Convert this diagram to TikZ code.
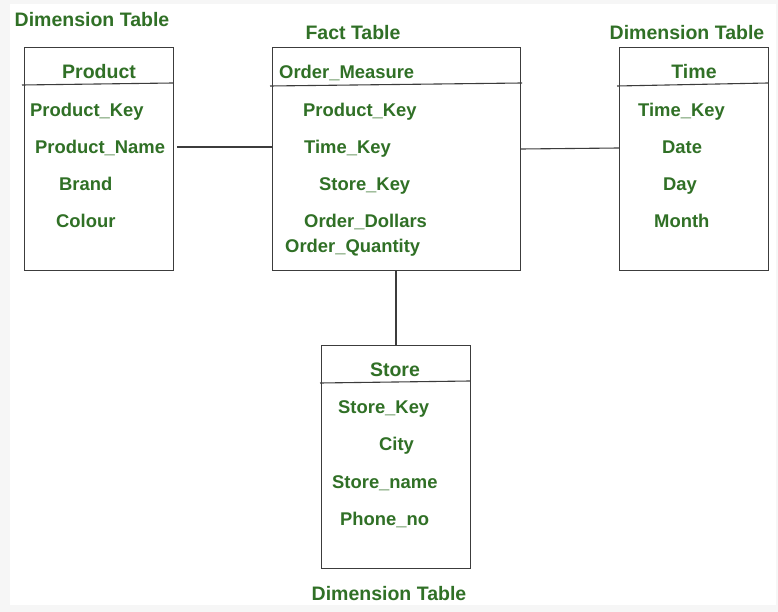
\documentclass[tikz,border=0pt]{standalone}
\usepackage{fontspec}
\setmainfont{Liberation Sans}
\definecolor{tabgreen}{RGB}{48, 112, 38}
\definecolor{edgegray}{RGB}{60, 60, 60}
\usetikzlibrary{positioning, calc}

\tikzset{
  tablebox/.style={draw=edgegray, line width=1.1pt},
  title/.style={anchor=base, text=tabgreen, inner sep=0pt, font=\bfseries\fontsize{19.5}{21}\selectfont},
  field/.style={anchor=base west, text=tabgreen, inner sep=0pt, font=\bfseries\fontsize{18.4}{20}\selectfont},
  link/.style={draw=edgegray, line width=1.1pt}
}

\begin{document}
\begin{tikzpicture}[x=1pt, y=-1pt]
  % page frame
  \fill[gray!7] (0,0) rectangle (778,612);
  \fill[white] (10,4) rectangle (776,605);
  \useasboundingbox (0,0) rectangle (778,612);

  % Product dimension
  \node[tablebox, minimum width=149pt, minimum height=223pt, anchor=north west] (product) at (24,47) {};
  \draw[tablebox] (22,85) -- (173,83);
  \node[title] (dimprod) at (92,27) {Dimension Table};
  \node[title] (prodhead) at (99,78.5) {Product};
  \node[field] (pkey) at (30,116.5) {Product\_Key};
  \node[field] (pname) at (35,153.5) {Product\_Name};
  \node[field] (brand) at (59,190.5) {Brand};
  \node[field] (colour) at (56,227.5) {Colour};

  % Fact table
  \node[tablebox, minimum width=248pt, minimum height=223pt, anchor=north west] (fact) at (272,47) {};
  \draw[tablebox] (270,86) -- (522,83);
  \node[title] (facttitle) at (353,40) {Fact Table};
  \node[field] (measure) at (279,78.5) {Order\_Measure};
  \node[field] (fpkey) at (303,116.5) {Product\_Key};
  \node[field] (ftkey) at (304,153.5) {Time\_Key};
  \node[field] (fskey) at (319,190.5) {Store\_Key};
  \node[field] (dollars) at (304,227.5) {Order\_Dollars};
  \node[field] (quantity) at (285,252.5) {Order\_Quantity};

  % Time dimension
  \node[tablebox, minimum width=149pt, minimum height=223pt, anchor=north west] (time) at (619,47) {};
  \draw[tablebox] (617,86) -- (768,83);
  \node[title] (dimtime) at (687,40) {Dimension Table};
  \node[title] (timehead) at (694,78.5) {Time};
  \node[field] (tkey) at (638,116.5) {Time\_Key};
  \node[field] (date) at (662,153.5) {Date};
  \node[field] (day) at (663,190.5) {Day};
  \node[field] (month) at (654,227.5) {Month};

  % Store dimension
  \node[tablebox, minimum width=149pt, minimum height=223pt, anchor=north west] (store) at (321,345) {};
  \draw[tablebox] (320,383) -- (470,381);
  \node[title] (dimstore) at (389,600) {Dimension Table};
  \node[title] (storehead) at (395,376.5) {Store};
  \node[field] (skey) at (338,413.5) {Store\_Key};
  \node[field] (city) at (379,450.5) {City};
  \node[field] (sname) at (332,488.5) {Store\_name};
  \node[field] (phone) at (340,525.5) {Phone\_no};

  % links
  \coordinate (pjoin) at (177,147);
  \draw[link] (pjoin) -- (pjoin -| fact.west);
  \draw[link] (fact.east |- 0,149) -- (time.west |- 0,148);
  \draw[link] (fact.south -| 396,0) -- (store.north -| 396,0);
\end{tikzpicture}
\end{document}
